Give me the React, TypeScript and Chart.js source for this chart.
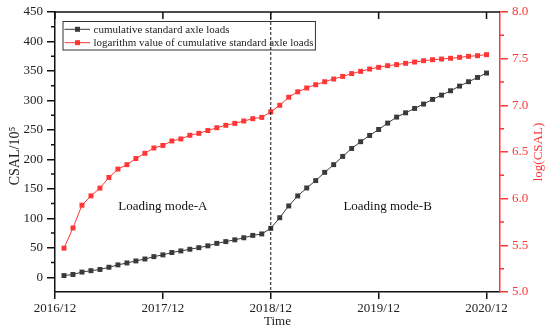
import React, { useEffect, useRef } from "react";
import { Chart, registerables } from "chart.js";

Chart.register(...registerables);

// months after 2016/12
const months = [
  1, 2, 3, 4, 5, 6, 7, 8, 9, 10, 11, 12,
  13, 14, 15, 16, 17, 18, 19, 20, 21, 22, 23, 24,
  25, 26, 27, 28, 29, 30, 31, 32, 33, 34, 35, 36,
  37, 38, 39, 40, 41, 42, 43, 44, 45, 46, 47, 48,
];

// cumulative standard axle loads (10^5)
const csal = [
  2.9, 4.7, 8.8, 11.2, 13.2, 17, 21, 24.3, 27.7, 31, 35, 38,
  42, 44.7, 47.5, 50.2, 53.3, 57.5, 60.5, 63.5, 67, 71, 73.5, 83,
  101, 121, 138, 151.5, 164, 178, 191, 205, 218.5, 230, 240.5, 250.7,
  261.5, 271.7, 279, 286.4, 293.8, 301.7, 309, 316.4, 324.3, 331.7, 339, 346.4,
];

// log(CSAL)
const logCsal = [
  5.47, 5.686, 5.93, 6.03, 6.113, 6.227, 6.317, 6.364, 6.43, 6.486, 6.543, 6.57,
  6.618, 6.64, 6.679, 6.7, 6.73, 6.76, 6.786, 6.807, 6.832, 6.857, 6.871, 6.93,
  7.0, 7.087, 7.145, 7.186, 7.221, 7.253, 7.282, 7.31, 7.34, 7.364, 7.389, 7.407,
  7.425, 7.436, 7.45, 7.464, 7.478, 7.489, 7.496, 7.504, 7.514, 7.525, 7.532, 7.543,
];

const xTickMonths = [0, 12, 24, 36, 48];
const xTickLabels = ["2016/12", "2017/12", "2018/12", "2019/12", "2020/12"];
const leftTicks = [0, 50, 100, 150, 200, 250, 300, 350, 400, 450];
const rightTicks = [5.0, 5.5, 6.0, 6.5, 7.0, 7.5, 8.0];

const seriesLabels = [
  "cumulative standard axle loads",
  "logarithm value of cumulative standard axle loads",
];
const boundaryMonth = 24;
const modeLabels = ["Loading mode-A", "Loading mode-B"];
const modeLabelMonths = [12, 37];
const modeLabelValue = 120;

const FONT = "'Liberation Serif', 'Times New Roman', serif";
const RED = "#ff3636";
const DARK = "#3a3a3a";
const AXIS = "#111111";
const TEXT = "#222222";

const decorPlugin = {
  id: "decor",
  afterDatasetsDraw(chart: any) {
    const ctx = chart.ctx as CanvasRenderingContext2D;
    const area = chart.chartArea;
    const xs = chart.scales.x;
    const yl = chart.scales.y;
    const yr = chart.scales.y1;
    ctx.save();

    // top border with inward ticks
    ctx.strokeStyle = AXIS;
    ctx.lineWidth = 1.5;
    ctx.beginPath();
    ctx.moveTo(area.left, area.top);
    ctx.lineTo(area.right, area.top);
    ctx.stroke();
    ctx.beginPath();
    xTickMonths.forEach((m) => {
      const px = xs.getPixelForValue(m);
      ctx.moveTo(px, area.top);
      ctx.lineTo(px, area.top + 7);
    });
    ctx.stroke();

    // minor ticks left
    ctx.beginPath();
    for (let i = 0; i < leftTicks.length; i++) {
      const v = leftTicks[i] + 25;
      if (v >= yl.max) continue;
      const py = yl.getPixelForValue(v);
      ctx.moveTo(area.left, py);
      ctx.lineTo(area.left - 4, py);
    }
    ctx.stroke();

    // minor ticks right
    ctx.strokeStyle = RED;
    ctx.beginPath();
    for (let i = 0; i < rightTicks.length - 1; i++) {
      const v = rightTicks[i] + 0.25;
      const py = yr.getPixelForValue(v);
      ctx.moveTo(area.right, py);
      ctx.lineTo(area.right + 4, py);
    }
    ctx.stroke();

    // legend
    ctx.font = `11px ${FONT}`;
    const ds = chart.data.datasets;
    let maxW = 0;
    ds.forEach((d: any) => {
      maxW = Math.max(maxW, ctx.measureText(d.label).width);
    });
    const bx = area.left + 8;
    const by = area.top + 9.5;
    const bw = 30.5 + maxW + 2;
    const bh = 28.5;
    ctx.fillStyle = "#ffffff";
    ctx.fillRect(bx, by, bw, bh);
    ctx.strokeStyle = "#333333";
    ctx.lineWidth = 1;
    ctx.strokeRect(bx, by, bw, bh);
    ds.forEach((d: any, i: number) => {
      const ry = by + 7.8 + i * 13.4;
      ctx.strokeStyle = d.borderColor;
      ctx.lineWidth = 1;
      ctx.beginPath();
      ctx.moveTo(bx + 1.5, ry);
      ctx.lineTo(bx + 27, ry);
      ctx.stroke();
      ctx.fillStyle = d.pointBackgroundColor;
      ctx.fillRect(bx + 14.5 - 2.5, ry - 2.5, 5, 5);
      ctx.fillStyle = TEXT;
      ctx.textAlign = "left";
      ctx.textBaseline = "middle";
      ctx.fillText(d.label, bx + 30.5, ry + 0.5);
    });

    // boundary dashed line
    const bxp = xs.getPixelForValue(boundaryMonth);
    ctx.strokeStyle = "#111111";
    ctx.lineWidth = 1;
    ctx.setLineDash([3, 2]);
    ctx.beginPath();
    ctx.moveTo(bxp, area.top);
    ctx.lineTo(bxp, area.bottom);
    ctx.stroke();
    ctx.setLineDash([]);

    // mode labels
    ctx.font = `13px ${FONT}`;
    ctx.fillStyle = "#111111";
    ctx.textAlign = "center";
    ctx.textBaseline = "middle";
    modeLabels.forEach((t, i) => {
      ctx.fillText(
        t,
        xs.getPixelForValue(modeLabelMonths[i]),
        yl.getPixelForValue(modeLabelValue)
      );
    });

    // axis titles
    const cy = (area.top + area.bottom) / 2;
    ctx.save();
    ctx.translate(15, cy + 4);
    ctx.rotate(-Math.PI / 2);
    ctx.font = `14px ${FONT}`;
    ctx.fillStyle = TEXT;
    ctx.fillText("CSAL/10\u2075", 0, 0);
    ctx.restore();

    ctx.save();
    ctx.translate(539, cy);
    ctx.rotate(-Math.PI / 2);
    ctx.font = `13px ${FONT}`;
    ctx.fillStyle = RED;
    ctx.fillText("log(CSAL)", 0, 0);
    ctx.restore();

    ctx.restore();
  },
};

export default function App() {
  const ref = useRef<HTMLCanvasElement | null>(null);

  useEffect(() => {
    if (!ref.current) return;
    const chart = new Chart(ref.current, {
      type: "line",
      data: {
        datasets: [
          {
            label: seriesLabels[0],
            data: months.map((m, i) => ({ x: m, y: csal[i] })),
            yAxisID: "y",
            borderColor: DARK,
            backgroundColor: DARK,
            pointBackgroundColor: DARK,
            pointBorderColor: DARK,
            pointStyle: "rect",
            pointRadius: 3.5,
            pointBorderWidth: 0,
            borderWidth: 1,
            tension: 0,
          },
          {
            label: seriesLabels[1],
            data: months.map((m, i) => ({ x: m, y: logCsal[i] })),
            yAxisID: "y1",
            borderColor: RED,
            backgroundColor: RED,
            pointBackgroundColor: RED,
            pointBorderColor: RED,
            pointStyle: "rect",
            pointRadius: 3.5,
            pointBorderWidth: 0,
            borderWidth: 1,
            tension: 0,
          },
        ],
      },
      options: {
        responsive: false,
        animation: false,
        events: [],
        layout: { padding: { top: 12, left: 0, right: 0, bottom: 0 } },
        plugins: {
          legend: { display: false },
          tooltip: { enabled: false },
          title: { display: false },
        },
        scales: {
          x: {
            type: "linear",
            position: "bottom",
            min: 0,
            max: 49.5,
            afterBuildTicks: (s: any) => {
              s.ticks = xTickMonths.map((v) => ({ value: v }));
            },
            afterFit: (s: any) => {
              s.height = 44;
            },
            ticks: {
              autoSkip: false,
              maxRotation: 0,
              padding: 2,
              color: TEXT,
              font: { family: FONT, size: 13 },
              callback: (v: any) => {
                const i = xTickMonths.indexOf(Number(v));
                return i >= 0 ? xTickLabels[i] : "";
              },
            },
            grid: {
              drawOnChartArea: false,
              drawTicks: true,
              tickLength: 7,
              color: AXIS,
              lineWidth: 1.5,
            },
            border: { display: true, color: AXIS, width: 1.5 },
            title: {
              display: true,
              text: "Time",
              color: TEXT,
              font: { family: FONT, size: 13 },
              padding: { top: 0, bottom: 7 },
            },
          },
          y: {
            type: "linear",
            position: "left",
            min: -25,
            max: 450,
            afterBuildTicks: (s: any) => {
              s.ticks = leftTicks.map((v) => ({ value: v }));
            },
            afterFit: (s: any) => {
              s.width = 55;
            },
            ticks: {
              padding: 4,
              color: TEXT,
              font: { family: FONT, size: 13 },
              callback: (v: any) => String(v),
            },
            grid: {
              drawOnChartArea: false,
              drawTicks: true,
              tickLength: 8,
              color: AXIS,
              lineWidth: 1.5,
            },
            border: { display: true, color: AXIS, width: 1.5 },
          },
          y1: {
            type: "linear",
            position: "right",
            min: 5,
            max: 8,
            afterBuildTicks: (s: any) => {
              s.ticks = rightTicks.map((v) => ({ value: v }));
            },
            afterFit: (s: any) => {
              s.width = 50;
            },
            ticks: {
              padding: 4,
              color: RED,
              font: { family: FONT, size: 13 },
              callback: (v: any) => Number(v).toFixed(1),
            },
            grid: {
              drawOnChartArea: false,
              drawTicks: true,
              tickLength: 8,
              color: RED,
              lineWidth: 1.5,
            },
            border: { display: true, color: RED, width: 1.5 },
          },
        },
      },
      plugins: [decorPlugin],
    } as any);
    return () => chart.destroy();
  }, []);

  return (
    <div style={{ position: "absolute", left: 0, top: 0, width: 550, height: 336, background: "#fff" }}>
      <canvas ref={ref} width={550} height={336} style={{ display: "block" }} />
    </div>
  );
}
